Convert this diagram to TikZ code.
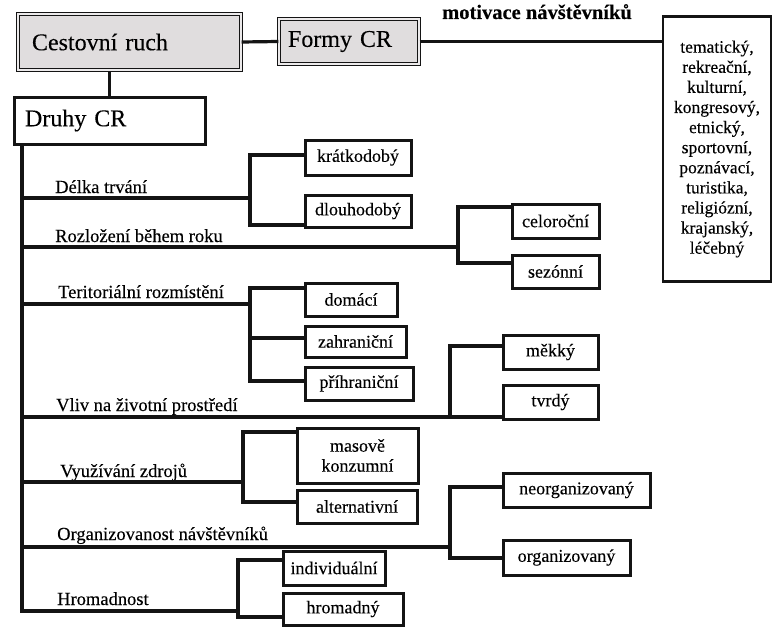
\documentclass[tikz,border=0pt]{standalone}
\usepackage{fontspec}
\setmainfont{Liberation Serif}[FakeBold=0.2]
\definecolor{ink}{RGB}{20,20,20}
\definecolor{headfill}{RGB}{224,221,222}
\definecolor{headgap}{RGB}{236,234,235}
\begin{document}
\begin{tikzpicture}[x=1pt,y=-1pt, line join=miter,
  ln/.style={line width=3.2pt, draw=ink},
  leaf/.style={draw=ink, line width=3pt, fill=white, inner sep=0pt, font=\fontsize{18}{20}\selectfont, align=center},
  lab/.style={anchor=base west, inner sep=0pt, font=\fontsize{18.5}{20}\selectfont},
  head/.style={draw=ink, double=headgap, double distance=1.8pt, line width=1.3pt, fill=headfill, inner sep=0pt, align=left, font=\fontsize{24}{26}\selectfont}]
\useasboundingbox (0,0) rectangle (773,626);
\fill[white] (0,0) rectangle (773,626);

% headers
\node[head, minimum width=223pt, minimum height=56pt, text width=195pt] (cr) at (129.5,42) {Cestovní ruch};
\node[head, minimum width=140pt, minimum height=45pt, text width=122pt] (fo) at (349,41.5) {Formy CR};
\node[draw=ink, line width=3pt, fill=white, minimum width=191pt, minimum height=47pt, text width=169pt, align=left, inner sep=0pt, font=\fontsize{24}{26}\selectfont] (dr) at (109.5,120.5) {Druhy CR};

\node[anchor=base west, inner sep=0pt, font=\bfseries\fontsize{20.5}{22}\selectfont] (mv) at (442,19) {motivace návštěvníků};
\node[draw=ink, line width=2.6pt, fill=white, minimum width=108pt, minimum height=265pt, inner sep=0pt, align=center, font=\fontsize{17.5}{20.1}\selectfont] (mo) at (717,149)
 {tematický,\\rekreační,\\kulturní,\\kongresový,\\etnický,\\sportovní,\\poznávací,\\turistika,\\religiózní,\\krajanský,\\léčebný};

\draw[ln] (cr.east) -- (fo.west);
\draw[ln] (dr.north) -- (dr.north |- cr.south);
\draw[ln] (fo.east) -- (fo.east -| mo.west);

% leaves
\node[leaf, minimum width=106pt, minimum height=35pt] (kr) at (358,157.5) {krátkodobý};
\node[leaf, minimum width=106pt, minimum height=32pt] (dl) at (358,211) {dlouhodobý};
\node[leaf, minimum width=87pt, minimum height=34pt] (ce) at (555.5,221) {celoroční};
\node[leaf, minimum width=87pt, minimum height=33pt] (se) at (555.5,271.5) {sezónní};
\node[leaf, minimum width=92pt, minimum height=33pt] (do) at (351,299.5) {domácí};
\node[leaf, minimum width=101pt, minimum height=31pt] (za) at (355.5,341.5) {zahraniční};
\node[leaf, minimum width=108pt, minimum height=33pt] (pr) at (359,383.5) {příhraniční};
\node[leaf, minimum width=95pt, minimum height=34pt] (mk) at (550.5,352) {měkký};
\node[leaf, minimum width=95pt, minimum height=34pt] (tv) at (550.5,402) {tvrdý};
\node[leaf, minimum width=121pt, minimum height=55pt] (ma) at (357.5,455.5) {masově\\konzumní};
\node[leaf, minimum width=120pt, minimum height=33pt] (al) at (357,506.5) {alternativní};
\node[leaf, minimum width=147pt, minimum height=34pt] (ne) at (576.5,490) {neorganizovaný};
\node[leaf, minimum width=127pt, minimum height=35pt] (or) at (566.5,557.5) {organizovaný};
\node[leaf, minimum width=102pt, minimum height=34pt] (in) at (334,568) {individuální};
\node[leaf, minimum width=120pt, minimum height=32pt] (hr) at (343,609) {hromadný};

% branch labels
\node[lab] (l1) at (55,193) {Délka trvání};
\node[lab] (l2) at (55,242) {Rozložení během roku};
\node[lab] (l3) at (58,298) {Teritoriální rozmístění};
\node[lab] (l4) at (56,411) {Vliv na životní prostředí};
\node[lab] (l5) at (60,477) {Využívání zdrojů};
\node[lab] (l6) at (57,540) {Organizovanost návštěvníků};
\node[lab] (l7) at (57,605) {Hromadnost};

% trunk & junctions
\coordinate (t1) at (22,198); \coordinate (j1) at (250,198);
\coordinate (t2) at (22,247); \coordinate (j2) at (458,247);
\coordinate (t3) at (22,304); \coordinate (j3) at (250,304);
\coordinate (t4) at (22,417); \coordinate (j4) at (450,417);
\coordinate (t5) at (22,482); \coordinate (j5) at (243,482);
\coordinate (t6) at (22,547); \coordinate (j6) at (450,547);
\coordinate (t7) at (22,611); \coordinate (j7) at (238,611);

\draw[ln] (dr.south -| t7) -- (t7) -- (j7);
\draw[ln] (t1) -- (j1);
\draw[ln] (t2) -- (j2);
\draw[ln] (t3) -- (j3);
\draw[ln] (t4) -- (tv.west |- t4);
\draw[ln] (t5) -- (j5);
\draw[ln] (t6) -- (j6);

\draw[ln] (kr.west |- 0,155) -| (j1) |- (dl.west |- 0,225);
\draw[ln] (ce.west |- 0,207) -| (j2) |- (se.west |- 0,263);
\draw[ln] (do.west |- 0,288) -| (j3) |- (pr.west |- 0,381);
\draw[ln] (j3 |- 0,338) -- (za.west |- 0,338);
\draw[ln] (mk.west |- 0,346) -| (j4);
\draw[ln] (ma.west |- 0,432) -| (j5) |- (al.west |- 0,502);
\draw[ln] (ne.west |- 0,487) -| (j6) |- (or.west |- 0,558);
\draw[ln] (in.west |- 0,560) -| (j7) |- (hr.west |- 0,617);
\end{tikzpicture}
\end{document}
